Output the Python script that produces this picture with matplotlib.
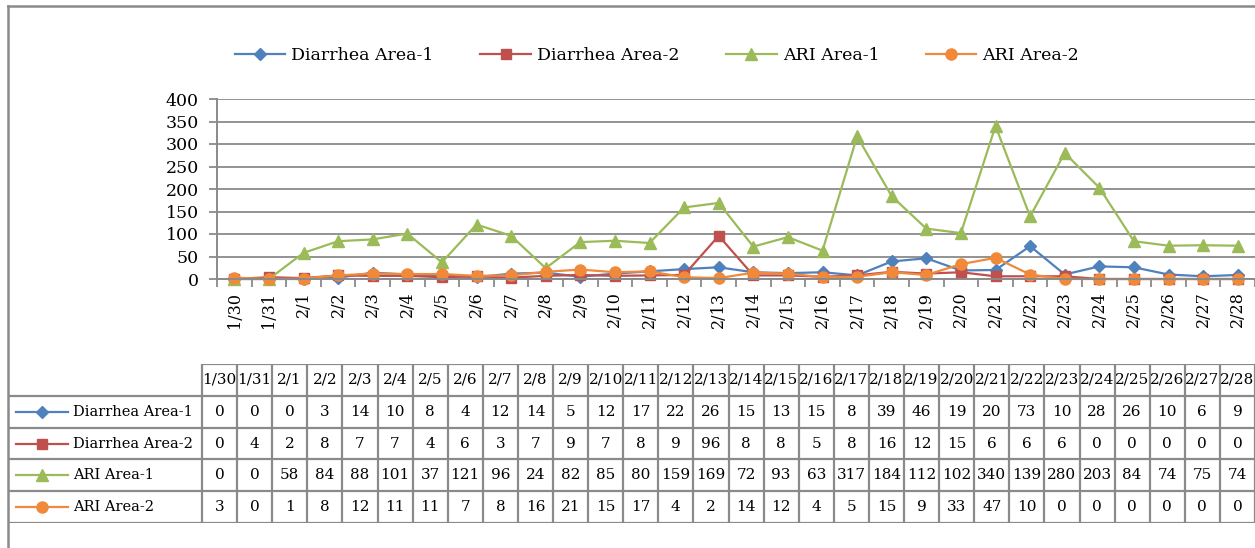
import matplotlib
matplotlib.use("Agg")
import matplotlib.pyplot as plt
from matplotlib.lines import Line2D
import numpy as np

# data
dates = ["1/30", "1/31", "2/1", "2/2", "2/3", "2/4", "2/5", "2/6", "2/7", "2/8",
         "2/9", "2/10", "2/11", "2/12", "2/13", "2/14", "2/15", "2/16", "2/17", "2/18",
         "2/19", "2/20", "2/21", "2/22", "2/23", "2/24", "2/25", "2/26", "2/27", "2/28"]
diarrhea_area1 = [0, 0, 0, 3, 14, 10, 8, 4, 12, 14, 5, 12, 17, 22, 26, 15, 13, 15, 8, 39,
                  46, 19, 20, 73, 10, 28, 26, 10, 6, 9]
diarrhea_area2 = [0, 4, 2, 8, 7, 7, 4, 6, 3, 7, 9, 7, 8, 9, 96, 8, 8, 5, 8, 16,
                  12, 15, 6, 6, 6, 0, 0, 0, 0, 0]
ari_area1 = [0, 0, 58, 84, 88, 101, 37, 121, 96, 24, 82, 85, 80, 159, 169, 72, 93, 63, 317, 184,
             112, 102, 340, 139, 280, 203, 84, 74, 75, 74]
ari_area2 = [3, 0, 1, 8, 12, 11, 11, 7, 8, 16, 21, 15, 17, 4, 2, 14, 12, 4, 5, 15,
             9, 33, 47, 10, 0, 0, 0, 0, 0, 0]

series_names = ["Diarrhea Area-1", "Diarrhea Area-2", "ARI Area-1", "ARI Area-2"]
series_values = [diarrhea_area1, diarrhea_area2, ari_area1, ari_area2]
series_colors = ["#4F81BD", "#C0504D", "#9BBB59", "#F08A3A"]
series_markers = ["D", "s", "^", "o"]
marker_sizes = [6, 7.5, 8, 8]

W, H = 1255, 548
GRID = "#8a8a8a"
plt.rcParams["font.family"] = ["DejaVu Serif", "Liberation Serif"]


def px_rect(x0, y0, x1, y1):
    # pixel box (top-left origin) -> figure fraction rect
    return [x0 / W, 1 - y1 / H, (x1 - x0) / W, (y1 - y0) / H]


fig = plt.figure(figsize=(W / 100, H / 100), dpi=100)
fig.patch.set_facecolor("white")

# ---- line chart ----
ax = fig.add_axes(px_rect(217, 99, 1255, 279))
x = np.arange(len(dates))
handles = []
for name, vals, col, mk, ms in zip(series_names, series_values, series_colors,
                                   series_markers, marker_sizes):
    h, = ax.plot(x, vals, color=col, lw=1.6, marker=mk, ms=ms,
                 markerfacecolor=col, markeredgecolor=col, label=name, clip_on=False)
    handles.append(h)

ax.set_xlim(-0.5, len(dates) - 0.5)
ax.set_ylim(0, 400)
ax.set_yticks(np.arange(0, 401, 50))
ax.yaxis.grid(True, color=GRID, lw=1.3)
ax.set_axisbelow(True)
ax.set_xticks(x)
ax.set_xticklabels(dates, rotation=90, fontsize=11.5)
ax.tick_params(axis="x", length=0, pad=9)
ax.set_xticks(np.arange(-0.5, len(dates), 1), minor=True)
ax.tick_params(axis="x", which="minor", length=6, width=1.3, color=GRID, direction="out")
ax.tick_params(axis="y", length=6, width=1.3, color=GRID, labelsize=12.5, pad=7)
for s in ["top", "right"]:
    ax.spines[s].set_visible(False)
for s in ["left", "bottom"]:
    ax.spines[s].set_color(GRID)
    ax.spines[s].set_linewidth(1.4)

fig.legend(handles=handles, loc="center", bbox_to_anchor=(657 / W, 1 - 56 / H),
           ncol=4, frameon=False, fontsize=12.5, handlelength=2.9,
           handletextpad=0.35, columnspacing=2.7)

# ---- data table ----
tx = fig.add_axes(px_rect(8, 364, 1255, 523))
ncol = len(dates)
left = -0.5 - (202 - 8) / ((1255 - 202) / ncol)
tx.set_xlim(left, ncol - 0.5)
tx.set_ylim(5, 0)
tx.axis("off")
tl = dict(color=GRID, lw=1.6, solid_capstyle="butt")
tx.plot([-0.5, ncol - 0.5], [0, 0], **tl)
for r in range(1, 6):
    tx.plot([left, ncol - 0.5], [r, r], **tl)
for c in range(ncol + 1):
    tx.plot([c - 0.5, c - 0.5], [0, 5], **tl)
for c, d in enumerate(dates):
    tx.text(c, 0.5, d, ha="center", va="center", fontsize=11)
for r, (name, vals, col, mk, ms) in enumerate(zip(series_names, series_values, series_colors,
                                                   series_markers, marker_sizes)):
    yy = r + 1.5
    tx.plot([left + 0.23, left + 1.7], [yy, yy], color=col, lw=1.6)
    tx.plot([left + 0.965], [yy], marker=mk, ms=ms, color=col)
    tx.text(left + 1.86, yy, name, ha="left", va="center", fontsize=10.5)
    for c, v in enumerate(vals):
        tx.text(c, yy, str(v), ha="center", va="center", fontsize=11)

# outer frame of the chart area (right/bottom cut off)
fig.add_artist(Line2D([8 / W, 8 / W], [0, 1 - 6 / H], color=GRID, lw=1.8))
fig.add_artist(Line2D([8 / W, 1], [1 - 6 / H, 1 - 6 / H], color=GRID, lw=1.8))

fig.savefig("out.png", dpi=100, facecolor="white")
